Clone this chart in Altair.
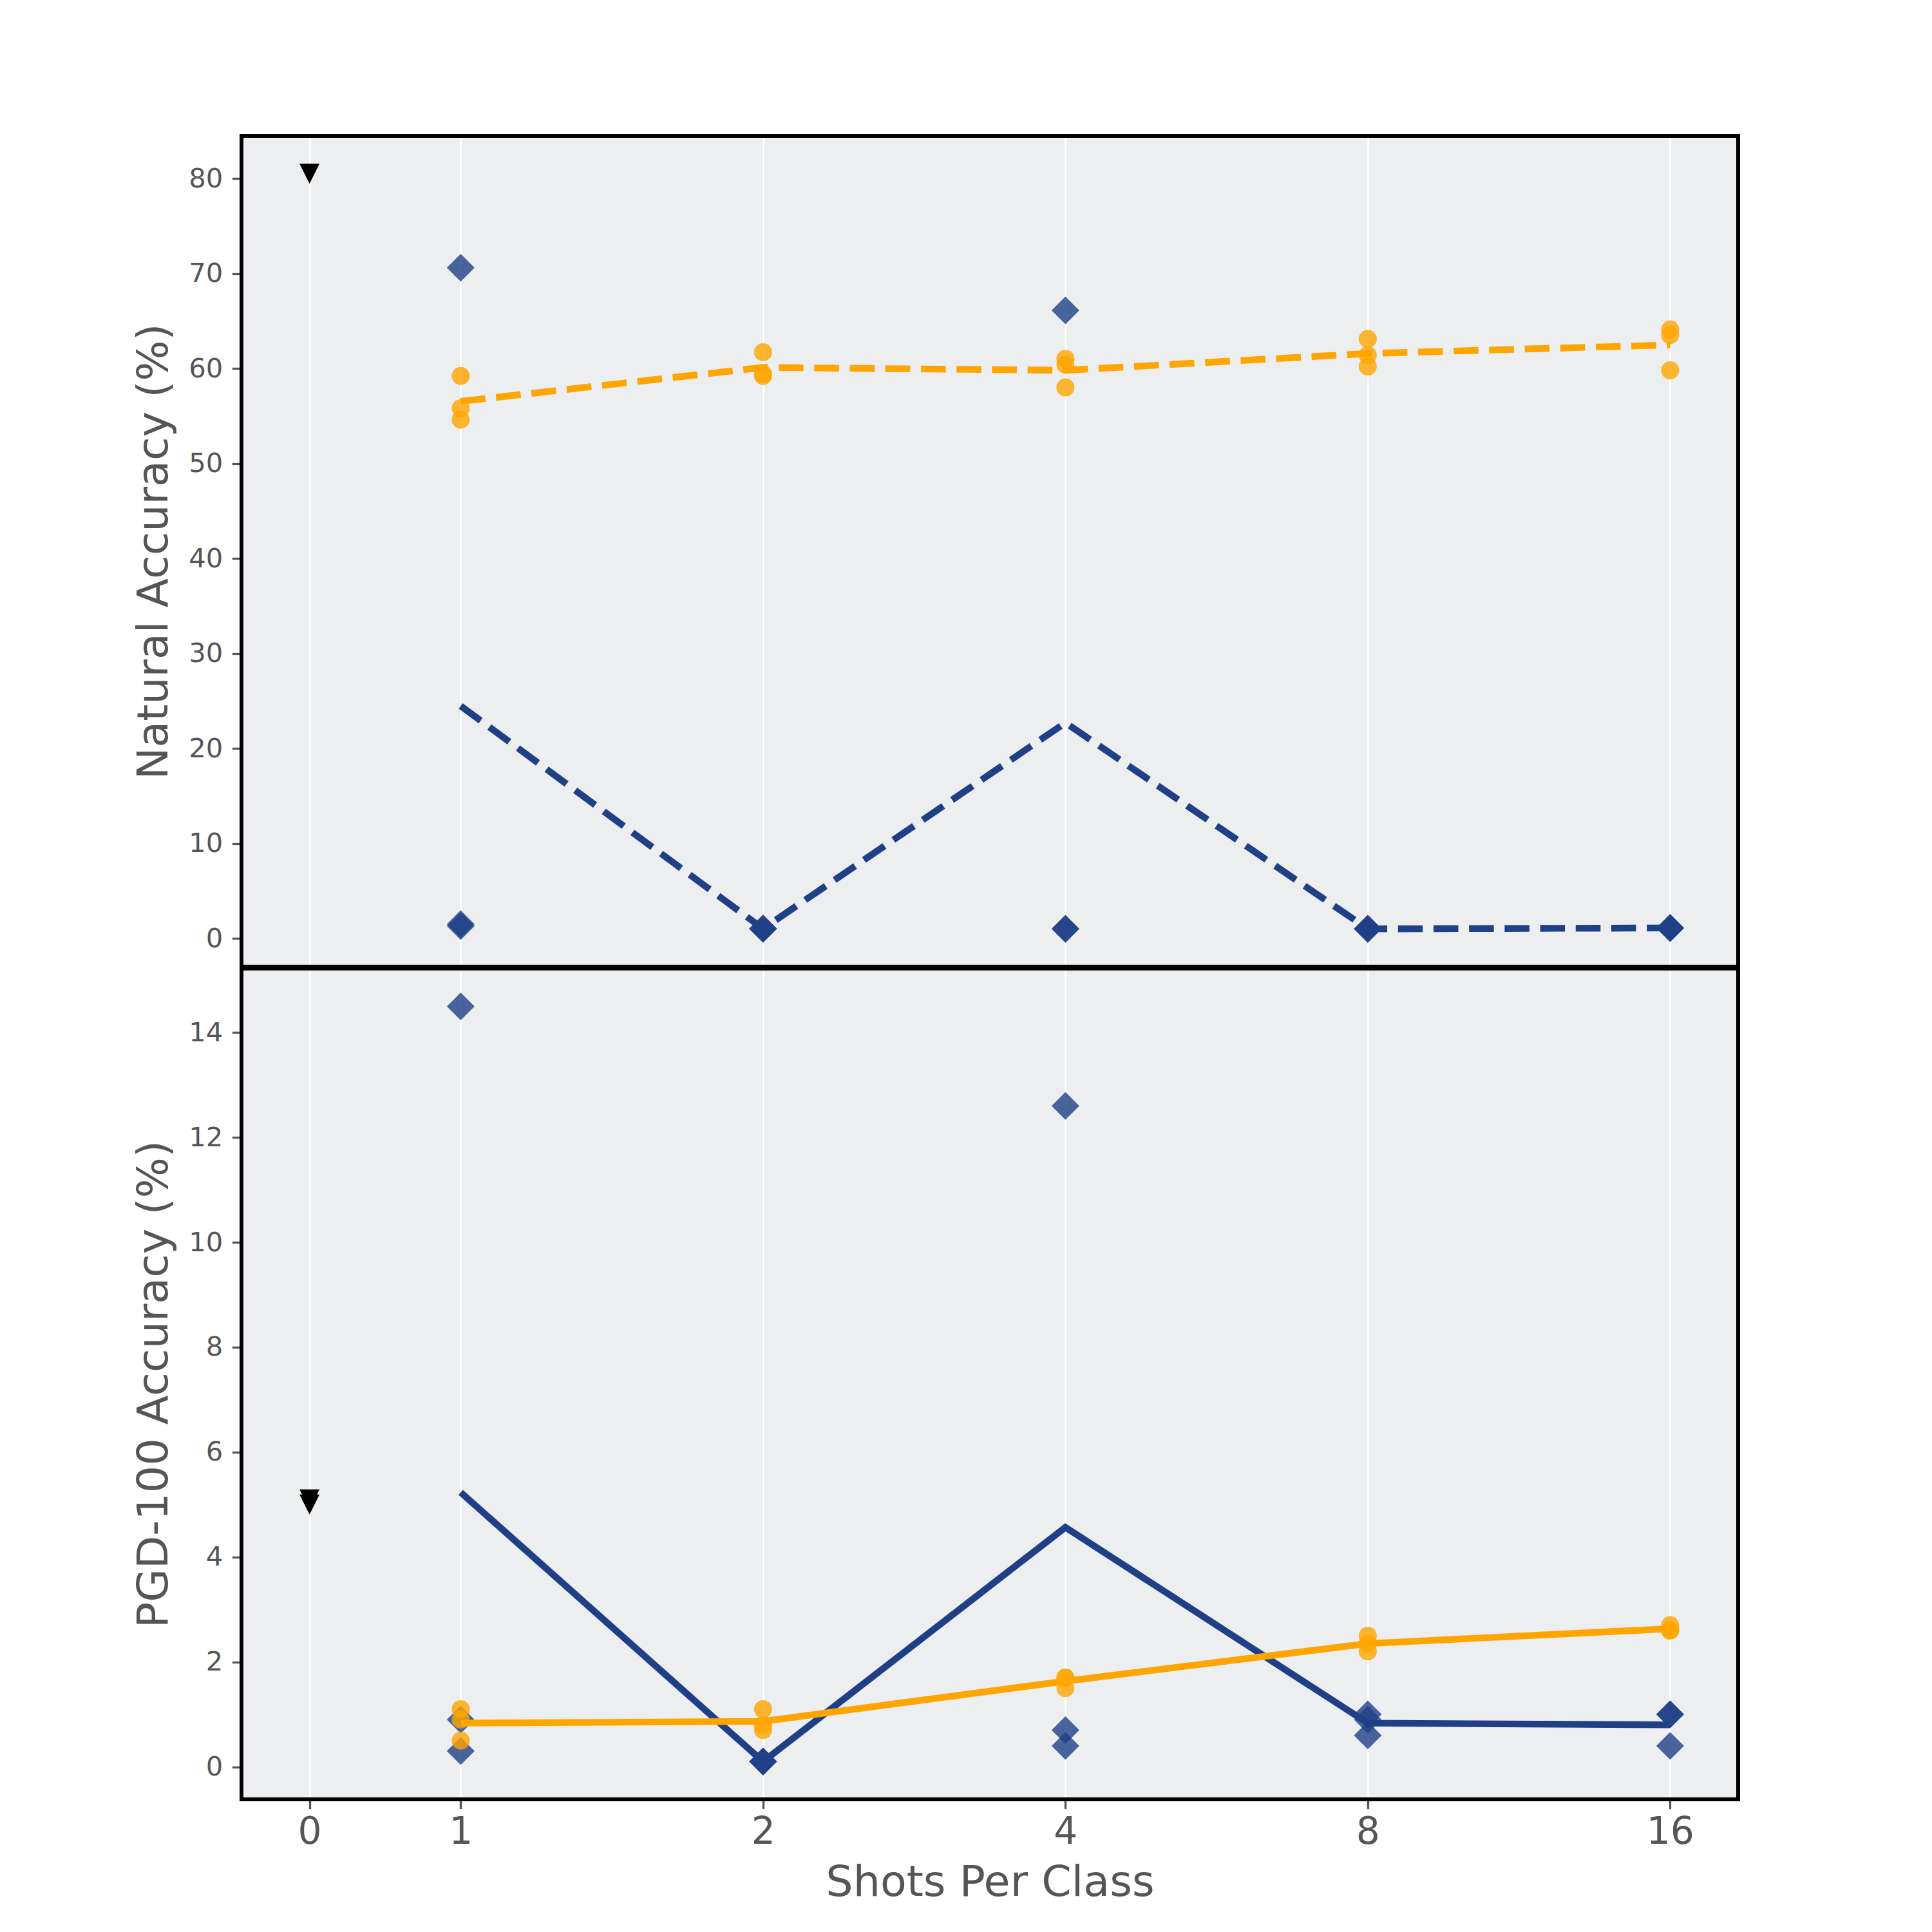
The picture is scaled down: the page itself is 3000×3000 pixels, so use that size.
import altair as alt
import pandas as pd

# ---- data ----
shots = [1, 2, 4, 8, 16]
tick_shots = [0, 1, 2, 4, 8, 16]

# Natural accuracy (%), three runs per shot count
blue_nat = [[70.6, 1.5, 1.3], [1.0, 1.0, 1.05], [66.1, 1.0, 1.0], [1.0, 1.0, 1.0], [1.1, 1.1, 1.1]]
orange_nat = [[59.2, 55.8, 54.6], [61.7, 59.4, 59.2], [61.0, 60.4, 58.0], [63.1, 61.4, 60.2], [64.1, 63.5, 59.8]]
zero_nat = [80.5]

# PGD-100 accuracy (%)
blue_pgd = [[14.5, 0.9, 0.3], [0.1, 0.1, 0.1], [12.6, 0.7, 0.4], [1.0, 0.9, 0.6], [1.0, 1.0, 0.4]]
orange_pgd = [[1.1, 0.9, 0.5], [1.1, 0.8, 0.7], [1.7, 1.7, 1.5], [2.5, 2.35, 2.2], [2.7, 2.6, 2.6]]
zero_pgd = [5.1, 5.0]

rows = []
for metric, b, o, z in [("nat", blue_nat, orange_nat, zero_nat), ("pgd", blue_pgd, orange_pgd, zero_pgd)]:
    for v in z:
        rows.append({"metric": metric, "method": "zero", "shots": 0, "value": v})
    for s, vals in zip(shots, b):
        for v in vals:
            rows.append({"metric": metric, "method": "blue", "shots": s, "value": v})
    for s, vals in zip(shots, o):
        for v in vals:
            rows.append({"metric": metric, "method": "orange", "shots": s, "value": v})
df = pd.DataFrame(rows)

BLUE = "#1f3f87"
ORANGE = "#ffa500"
TEXT = "#555555"
FONT = "DejaVu Sans"
TRI = "M-1,-1L1,-1L0,1Z"

W, H = 2324, 1290


def panel(metric, ydomain, yticks, ytitle, dash, bottom):
    base = alt.Chart(df).transform_filter(alt.datum.metric == metric).transform_calculate(
        pos="datum.shots == 0 ? -0.5 : log(datum.shots) / log(2)"
    )
    if bottom:
        xaxis = alt.Axis(
            values=[-0.5, 0, 1, 2, 3, 4],
            labelExpr="datum.value < 0 ? '0' : format(pow(2, datum.value), 'd')",
            title="Shots Per Class",
            grid=True,
            labelPadding=7.6,
            titlePadding=17,
        )
    else:
        xaxis = alt.Axis(values=[-0.5, 0, 1, 2, 3, 4], labels=False, ticks=False, title=None, grid=True)
    x = alt.X("pos:Q", scale=alt.Scale(domain=[-0.725, 4.225], nice=False, zero=False), axis=xaxis)
    y = alt.Y(
        "value:Q",
        scale=alt.Scale(domain=ydomain, nice=False, zero=False),
        axis=alt.Axis(values=yticks, title=ytitle, grid=False, titlePadding=19),
    )
    tri = base.transform_filter(alt.datum.method == "zero").mark_point(
        shape=TRI, filled=True, size=961, color="black", opacity=1
    ).encode(x=x, y=y)
    bpts = base.transform_filter(alt.datum.method == "blue").mark_point(
        shape="diamond", filled=True, size=1849, color=BLUE, opacity=0.8
    ).encode(x=x, y=y)
    line_kw = dict(strokeWidth=10.4)
    if dash:
        line_kw["strokeDash"] = [38.5, 16.7]
    bline = base.transform_filter(alt.datum.method == "blue").transform_aggregate(
        value="mean(value)", groupby=["pos"]
    ).mark_line(color=BLUE, **line_kw).encode(x=x, y=y)
    opts = base.transform_filter(alt.datum.method == "orange").mark_point(
        shape="circle", filled=True, size=784, color=ORANGE, opacity=0.8
    ).encode(x=x, y=y)
    oline = base.transform_filter(alt.datum.method == "orange").transform_aggregate(
        value="mean(value)", groupby=["pos"]
    ).mark_line(color=ORANGE, **line_kw).encode(x=x, y=y)
    frame = alt.Chart(df).mark_rect(filled=False, color="black", strokeWidth=6).encode(
        x=alt.value(0), x2=alt.value(W), y=alt.value(0), y2=alt.value(H)
    ).transform_filter(alt.datum.metric == metric).transform_aggregate(n="count()")
    return alt.layer(tri, bpts, bline, opts, oline, frame).properties(width=W, height=H)


top = panel("nat", [-2.975, 84.475], list(range(0, 81, 10)), "Natural Accuracy (%)", True, False)
bottom = panel("pgd", [-0.62, 15.22], list(range(0, 15, 2)), "PGD-100 Accuracy (%)", False, True)

chart = (
    alt.vconcat(top, bottom, spacing=-12)
    .properties(padding={"left": 198, "top": 200, "right": 150, "bottom": 100})
    .configure_view(fill="#eceef0", stroke=None)
    .configure_axis(
        labelFont=FONT,
        titleFont=FONT,
        labelColor=TEXT,
        titleColor=TEXT,
        tickColor=TEXT,
        tickWidth=3.3,
        tickSize=14.6,
        labelPadding=14.6,
        gridColor="white",
        gridWidth=2.5,
        domain=False,
        titleFontWeight="normal",
        titleFontSize=66.7,
    )
    .configure_axisX(labelFontSize=58.3)
    .configure_axisY(labelFontSize=41.7)
)

chart.save("out.html", embed_options={"renderer": "svg", "actions": False})
